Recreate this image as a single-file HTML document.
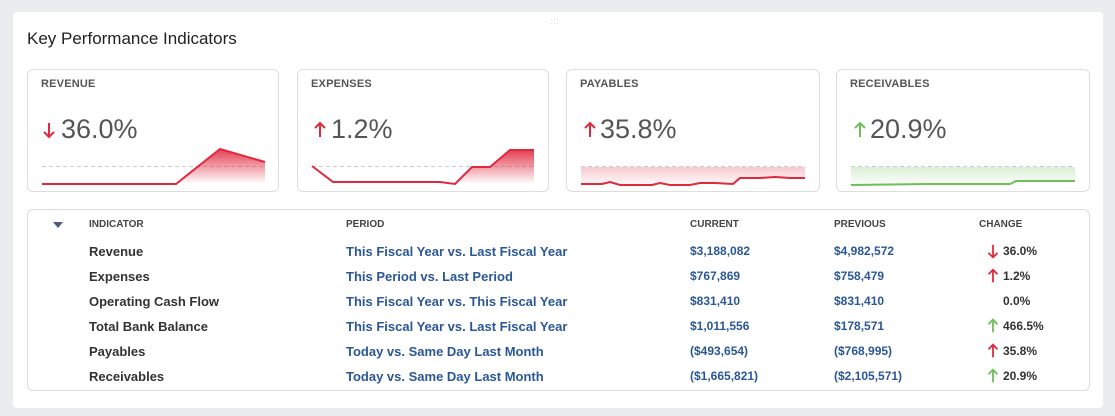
<!DOCTYPE html><html><head><style>
body{margin:0;width:1115px;height:416px;background:#ebecef;font-family:"Liberation Sans",sans-serif;position:relative;overflow:hidden}
.o{position:absolute;left:13px;top:12px;width:1090px;height:396px;background:#fff;border-radius:4px}
.a{position:absolute}
.t{left:27px;top:29px;font-size:17px;color:#222}
.c{position:absolute;top:69px;height:123px;border:1px solid #ddd;border-radius:6px;box-sizing:border-box;background:#fff}
.lb{position:absolute;left:13px;top:8px;font-size:11px;font-weight:bold;color:#555;letter-spacing:.2px}
.v{position:absolute;left:33px;top:44px;font-size:27px;color:#555}
.tb{position:absolute;left:27px;top:209px;width:1063px;height:182px;border:1px solid #ddd;border-radius:6px;box-sizing:border-box}
.h{font-size:10px;font-weight:bold;color:#444;top:219px}
.col{position:absolute;top:239px;line-height:25px}
.r{font-size:13px;font-weight:bold;color:#333}
.p{font-size:13px;font-weight:bold;color:#2b5797}
.n{font-size:12px;font-weight:bold;color:#2b5797}
.ch{font-size:12px;font-weight:bold;color:#333}
</style></head><body>
<div class="o"></div>
<div style="position:absolute;left:550px;top:17px;font-size:8px;color:#ccc;letter-spacing:1px">:::</div>
<div class="a t">Key Performance Indicators</div>
<div class="c" style="left:27px;width:252px"><div class="lb">REVENUE</div><div class="v">36.0%</div></div>
<div class="c" style="left:297px;width:252px"><div class="lb">EXPENSES</div><div class="v">1.2%</div></div>
<div class="c" style="left:566px;width:254px"><div class="lb">PAYABLES</div><div class="v">35.8%</div></div>
<div class="c" style="left:836px;width:254px"><div class="lb">RECEIVABLES</div><div class="v">20.9%</div></div>
<svg class="a" style="left:0;top:0" width="1115" height="416">
<defs>
<linearGradient id="gr" x1="0" y1="0" x2="0" y2="1"><stop offset="0" stop-color="#e0283e" stop-opacity=".9"/><stop offset="1" stop-color="#e0283e" stop-opacity="0"/></linearGradient>
<linearGradient id="gp" x1="0" y1="0" x2="0" y2="1"><stop offset="0" stop-color="#e0283e" stop-opacity=".25"/><stop offset="1" stop-color="#e0283e" stop-opacity="0.02"/></linearGradient>
<linearGradient id="gg" x1="0" y1="0" x2="0" y2="1"><stop offset="0" stop-color="#6cbf5a" stop-opacity=".25"/><stop offset="1" stop-color="#6cbf5a" stop-opacity="0.02"/></linearGradient>
<g id="up" fill="none" stroke-width="2"><line x1="0" y1="-7" x2="0" y2="7"/><polyline points="-5,-2 0,-7 5,-2"/></g>
<g id="dn" fill="none" stroke-width="2"><line x1="0" y1="-7" x2="0" y2="7"/><polyline points="-5,2 0,7 5,2"/></g>
</defs>
<g stroke="#ccc" stroke-dasharray="4,3" stroke-width="1">
<line x1="42" y1="166.5" x2="265" y2="166.5"/><line x1="312" y1="166.5" x2="534" y2="166.5"/>
<line x1="581" y1="166.5" x2="805" y2="166.5"/><line x1="851" y1="166.5" x2="1075" y2="166.5"/></g>
<polygon points="176,184 220,149 265,162 265,184" fill="url(#gr)"/>
<polyline points="42,184 176,184 220,149 265,162" fill="none" stroke="#e0283e" stroke-width="2"/>
<polygon points="455,184 472,167 490,167 510,150 534,150 534,184" fill="url(#gr)"/>
<polyline points="312,166 333,182 440,182 455,184 472,167 490,167 510,150 534,150" fill="none" stroke="#e0283e" stroke-width="2"/>
<polygon points="581,167 805,167 805,178 775,177 760,178 740,178 733,184 715,183 700,183 690,185 670,185 660,183 652,185 620,185 610,182 602,184 581,184" fill="url(#gp)"/>
<polyline points="581,184 602,184 610,182 620,185 652,185 660,183 670,185 690,185 700,183 715,183 733,184 740,178 760,178 775,177 790,178 805,178" fill="none" stroke="#e0283e" stroke-width="2"/>
<polygon points="851,167 1075,167 1075,181 1016,181 1010,184 930,184 851,185" fill="url(#gg)"/>
<polyline points="851,185 930,184 1010,184 1016,181 1075,181" fill="none" stroke="#6cbf5a" stroke-width="2"/>
<polygon points="53,222 63,222 58,228" fill="#4a5a7a"/>
<use href="#dn" x="49" y="130" stroke="#e0283e"/>
<use href="#up" x="320" y="130" stroke="#e0283e"/>
<use href="#up" x="590" y="130" stroke="#e0283e"/>
<use href="#up" x="860" y="130" stroke="#6cbf5a"/>
<g transform="translate(993,0) scale(0.9)">
<use href="#dn" x="0" y="279" stroke="#e0283e"/>
<use href="#up" x="0" y="306.7" stroke="#e0283e"/>
<use href="#up" x="0" y="362.2" stroke="#6cbf5a"/>
<use href="#up" x="0" y="390" stroke="#e0283e"/>
<use href="#up" x="0" y="417.8" stroke="#6cbf5a"/>
</g>
</svg>
<div class="tb"></div>
<div class="a h" style="left:89px">INDICATOR</div><div class="a h" style="left:346px">PERIOD</div>
<div class="a h" style="left:690px">CURRENT</div><div class="a h" style="left:834px">PREVIOUS</div><div class="a h" style="left:979px">CHANGE</div>
<div class="col r" style="left:89px">Revenue<br>Expenses<br>Operating Cash Flow<br>Total Bank Balance<br>Payables<br>Receivables</div>
<div class="col p" style="left:346px">This Fiscal Year vs. Last Fiscal Year<br>This Period vs. Last Period<br>This Fiscal Year vs. This Fiscal Year<br>This Fiscal Year vs. Last Fiscal Year<br>Today vs. Same Day Last Month<br>Today vs. Same Day Last Month</div>
<div class="col n" style="left:690px">$3,188,082<br>$767,869<br>$831,410<br>$1,011,556<br>($493,654)<br>($1,665,821)</div>
<div class="col n" style="left:834px">$4,982,572<br>$758,479<br>$831,410<br>$178,571<br>($768,995)<br>($2,105,571)</div>
<div class="col ch" style="left:1003px">36.0%<br>1.2%<br>0.0%<br>466.5%<br>35.8%<br>20.9%</div>
</body></html>
